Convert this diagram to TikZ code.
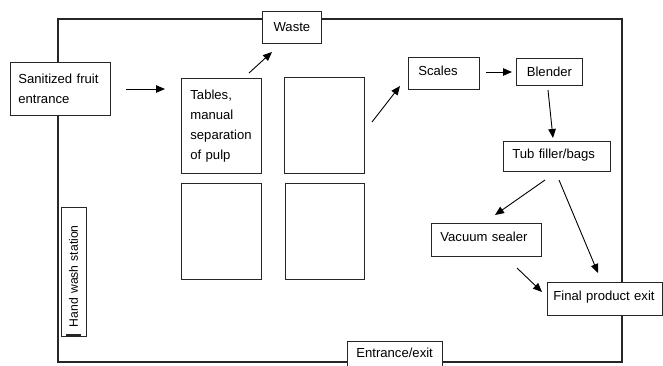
\documentclass[tikz,border=0pt]{standalone}
\usepackage{fontspec}
\setmainfont{Liberation Sans}
\usetikzlibrary{arrows.meta}
\tikzset{
  bx/.style={draw=black!85, line width=0.8pt, fill=white, anchor=north west,
    inner ysep=0pt, font=\fontsize{13.1}{20}\selectfont},
  arr/.style={-{Triangle[length=9pt,width=7.5pt]}, line width=0.9pt, black},
  room/.style={draw=black!85, line width=1.1pt},
}
\begin{document}
\begin{tikzpicture}[x=1pt,y=-1pt]
\clip (0,0) rectangle (663,365);
\fill[white] (0,0) rectangle (663,365);
\draw[room] (58,19) rectangle (622,362);

\node[bx, inner xsep=0pt, text width=59pt, align=center, minimum height=32pt] (waste) at (262,11) {Waste};
\node[bx, inner xsep=8pt, text width=84pt, align=left, minimum height=53pt] (fruit) at (10,62) {Sanitized fruit\\entrance};
\node[bx, inner xsep=9pt, text width=62pt, align=left, minimum height=95pt] (tables) at (181,78) {Tables,\\manual\\separation\\of pulp};
\node[bx, inner xsep=0pt, minimum width=80pt, minimum height=96pt] (t2) at (284,77) {};
\node[bx, inner xsep=0pt, minimum width=80pt, minimum height=96pt] (t3) at (181,183) {};
\node[bx, inner xsep=0pt, minimum width=79pt, minimum height=96pt] (t4) at (285,183) {};
\node[bx, inner xsep=10pt, text width=51pt, align=left, minimum height=32pt, text depth=6pt] (scales) at (408,57) {Scales};
\node[bx, inner xsep=0pt, text width=66pt, align=center, minimum height=27pt] (blender) at (516,58) {Blender};
\node[bx, inner xsep=9pt, text width=89pt, align=left, minimum height=30pt, text depth=5pt] (tub) at (503,141) {Tub filler/bags};
\node[bx, inner xsep=9pt, text width=92pt, align=left, minimum height=33pt, text depth=6pt] (vacuum) at (431,223) {Vacuum sealer};
\node[bx, inner xsep=6pt, text width=103pt, align=left, minimum height=33pt, text depth=6pt] (final) at (547,282) {Final product exit};
\node[bx, inner xsep=9pt, text width=77pt, align=left, minimum height=30pt, text depth=8pt] (entrance) at (347,341) {Entrance/exit};
\node[draw=black!85, line width=0.8pt, fill=white, rotate=90, inner xsep=9pt, inner ysep=0pt,
  text width=111pt, align=left, minimum height=25pt, font=\fontsize{12.2}{15}\selectfont] (hand) at (73.5,271.5) {Hand wash station};
\draw[line width=1.3pt, black!85] (66,335) -- (81,335);

\coordinate (a1s) at (126,89);  \coordinate (a1e) at (165,89);
\coordinate (a2s) at (249,73);  \coordinate (a2e) at (272,52);
\coordinate (a3s) at (372,122); \coordinate (a3e) at (400,86);
\coordinate (a4s) at (486,72);  \coordinate (a4e) at (512,72);
\coordinate (a5s) at (548,90);  \coordinate (a5e) at (553,138);
\coordinate (a6s) at (545,180); \coordinate (a6e) at (495,215);
\coordinate (a7s) at (559,180); \coordinate (a7e) at (598,273);
\coordinate (a8s) at (517,268); \coordinate (a8e) at (542,292);

\draw[arr] (a1s) -- (a1e);
\draw[arr] (a2s) -- (a2e);
\draw[arr] (a3s) -- (a3e);
\draw[arr] (a4s) -- (a4e);
\draw[arr] (a5s) -- (a5e);
\draw[arr] (a6s) -- (a6e);
\draw[arr] (a7s) -- (a7e);
\draw[arr] (a8s) -- (a8e);
\end{tikzpicture}
\end{document}
